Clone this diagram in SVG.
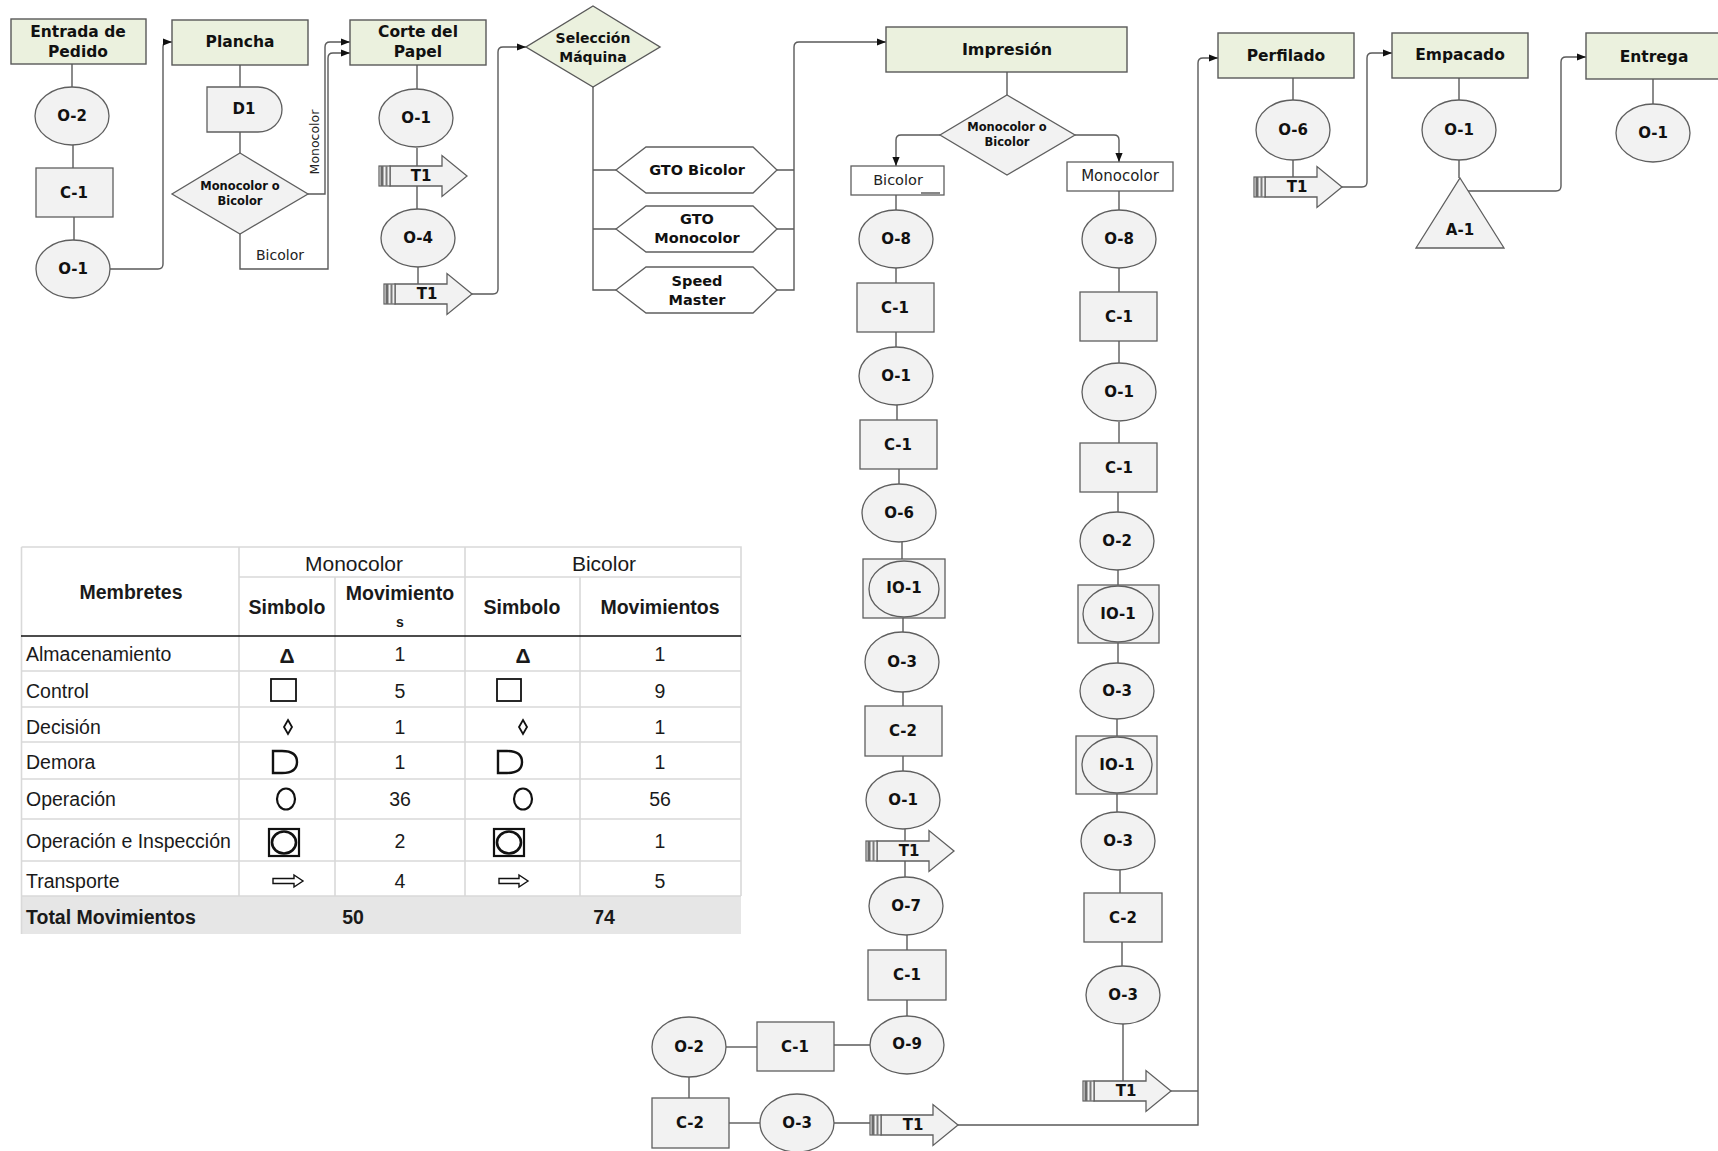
<svg xmlns="http://www.w3.org/2000/svg" width="1718" height="1151" viewBox="0 0 1718 1151">
  <defs>
    <style>
      .hdr { fill: #ebf1de; stroke: #595959; stroke-width: 1.4; }
      .nd { fill: #f2f2f2; stroke: #5f5f5f; stroke-width: 1.3; }
      .wb { fill: #ffffff; stroke: #5f5f5f; stroke-width: 1.3; }
      .wire { fill: none; stroke: #5a5a5a; stroke-width: 1.4; }
      .lbl { font-family: "DejaVu Sans", Verdana, sans-serif; font-weight: bold; font-size: 15px; fill: #111; text-anchor: middle; dominant-baseline: central; }
      .hl { font-size: 15.5px; }
      .sm { font-size: 11.5px; }
      .reg { font-family: "DejaVu Sans", Verdana, sans-serif; font-size: 14.5px; fill: #222; text-anchor: middle; dominant-baseline: central; }
      .tb { font-family: "Liberation Sans", Arial, sans-serif; font-size: 19.5px; fill: #1a1a1a; dominant-baseline: central; }
      .tbb { font-weight: bold; }
      .c { text-anchor: middle; }
      .grid { stroke: #d9d9d9; stroke-width: 1.6; fill: none; }
      .sym { fill: #fff; stroke: #111; }
    </style>
    <marker id="arr" viewBox="0 0 10 10" refX="10" refY="5" markerWidth="9" markerHeight="9" markerUnits="userSpaceOnUse" orient="auto">
      <path d="M0,1 L10,5 L0,9 Z" fill="#111"/>
    </marker>
    <!-- transport block arrow with striped tail, origin at tail / centre line -->
    <g id="t1">
      <path class="nd" d="M11,-10 H63 V-20.5 L88,0 L63,20.5 V10 H11 Z"/>
      <rect x="0" y="-10" width="11" height="20" fill="#f2f2f2" stroke="#5f5f5f" stroke-width="1.2"/>
      <line x1="3" y1="-10" x2="3" y2="10" stroke="#6b6b6b" stroke-width="3"/>
      <line x1="7.5" y1="-10" x2="7.5" y2="10" stroke="#7a7a7a" stroke-width="2"/>
    </g>
  </defs>

  <rect x="0" y="0" width="1718" height="1151" fill="#ffffff"/>

  <!-- connectors -->
  <g id="connectors">
    <path class="wire" d="M72,64 V87"/>
    <path class="wire" d="M73,145 V168"/>
    <path class="wire" d="M74,217 V240"/>
    <path class="wire" d="M110,269 H158 Q163,269 163,264 V47 Q163,42 168,42 H172" marker-end="url(#arr)"/>
    <path class="wire" d="M240,65 V87"/>
    <path class="wire" d="M240,132 V153"/>
    <path class="wire" d="M308,194 H325 V47 Q325,42 330,42 H350" marker-end="url(#arr)"/>
    <path class="wire" d="M240,234 V269 H328 V58 Q328,53 333,53 H350" marker-end="url(#arr)"/>
    <path class="wire" d="M417,65 V89"/>
    <path class="wire" d="M417,148 V209"/>
    <path class="wire" d="M418,267 V285"/>
    <path class="wire" d="M471,294 H493 Q498,294 498,289 V52 Q498,47 503,47 H526" marker-end="url(#arr)"/>
    <path class="wire" d="M593,87 V290 H616 M593,170 H616 M593,229 H616"/>
    <path class="wire" d="M777,170 H794 M777,229 H794 M777,290 H794 V47 Q794,42 799,42 H886" marker-end="url(#arr)"/>
    <path class="wire" d="M1007,72 V95"/>
    <path class="wire" d="M940,135 H901 Q896,135 896,140 V166" marker-end="url(#arr)"/>
    <path class="wire" d="M1075,135 H1114 Q1119,135 1119,140 V162" marker-end="url(#arr)"/>
    <!-- bicolor column -->
    <path class="wire" d="M896,195 V210"/>
    <path class="wire" d="M896,268 V283"/>
    <path class="wire" d="M896,332 V347"/>
    <path class="wire" d="M897,405 V420"/>
    <path class="wire" d="M899,469 V484"/>
    <path class="wire" d="M902,542 V559"/>
    <path class="wire" d="M903,618 V632"/>
    <path class="wire" d="M903,692 V706"/>
    <path class="wire" d="M903,756 V771"/>
    <path class="wire" d="M905,829 V877"/>
    <path class="wire" d="M907,935 V950"/>
    <path class="wire" d="M907,1000 V1016"/>
    <path class="wire" d="M870,1045 H834"/>
    <path class="wire" d="M757,1047 H726"/>
    <path class="wire" d="M689,1077 V1098"/>
    <path class="wire" d="M729,1123 H760"/>
    <path class="wire" d="M834,1123 H870"/>
    <path class="wire" d="M958,1125 H1198 V63 Q1198,58 1203,58 H1218" marker-end="url(#arr)"/>
    <!-- monocolor column -->
    <path class="wire" d="M1119,191 V210"/>
    <path class="wire" d="M1119,268 V292"/>
    <path class="wire" d="M1119,341 V363"/>
    <path class="wire" d="M1119,422 V443"/>
    <path class="wire" d="M1118,492 V512"/>
    <path class="wire" d="M1118,570 V585"/>
    <path class="wire" d="M1118,643 V663"/>
    <path class="wire" d="M1117,719 V736"/>
    <path class="wire" d="M1117,794 V812"/>
    <path class="wire" d="M1120,870 V893"/>
    <path class="wire" d="M1122,942 V966"/>
    <path class="wire" d="M1123,1024 V1081"/>
    <path class="wire" d="M1170,1091 H1198"/>
    <!-- perfilado / empacado / entrega -->
    <path class="wire" d="M1293,78 V100"/>
    <path class="wire" d="M1293,160 V177"/>
    <path class="wire" d="M1341,187 H1362 Q1367,187 1367,182 V58 Q1367,53 1372,53 H1392" marker-end="url(#arr)"/>
    <path class="wire" d="M1459,78 V101"/>
    <path class="wire" d="M1459,160 V178"/>
    <path class="wire" d="M1467,191 H1556 Q1561,191 1561,186 V62 Q1561,57 1566,57 H1586" marker-end="url(#arr)"/>
    <path class="wire" d="M1653,79 V104"/>
  </g>

  <!-- Entrada de Pedido -->
  <g id="entrada">
    <rect class="hdr" x="11" y="19" width="135" height="45"/>
    <text class="lbl hl" x="78" y="32">Entrada de</text>
    <text class="lbl hl" x="78" y="52">Pedido</text>
  </g>
  <g id="entrada-o2"><ellipse class="nd" cx="72" cy="116" rx="37" ry="29"/><text class="lbl" x="72" y="116">O-2</text></g>
  <g id="entrada-c1"><rect class="nd" x="36" y="168" width="77" height="49"/><text class="lbl" x="74" y="193">C-1</text></g>
  <g id="entrada-o1"><ellipse class="nd" cx="73" cy="269" rx="37" ry="29"/><text class="lbl" x="73" y="269">O-1</text></g>

  <!-- Plancha -->
  <g id="plancha">
    <rect class="hdr" x="172" y="20" width="136" height="45"/>
    <text class="lbl hl" x="240" y="42">Plancha</text>
  </g>
  <g id="plancha-d1"><path class="nd" d="M207,87 H258 A24,22.5 0 0 1 258,132 H207 Z"/><text class="lbl" x="244" y="109">D1</text></g>
  <g id="plancha-dec">
    <path class="nd" d="M240,153 L308,194 L240,234 L172,194 Z"/>
    <text class="lbl sm" x="240" y="186">Monocolor o</text>
    <text class="lbl sm" x="240" y="201">Bicolor</text>
  </g>
  <g id="plancha-branch-labels">
    <text class="reg" x="314" y="142" transform="rotate(-90 314 142)" style="font-size:12.5px">Monocolor</text>
    <text class="reg" x="280" y="255" style="font-size:14px">Bicolor</text>
  </g>

  <!-- Corte del Papel -->
  <g id="corte">
    <rect class="hdr" x="350" y="20" width="136" height="45"/>
    <text class="lbl hl" x="418" y="32">Corte del</text>
    <text class="lbl hl" x="418" y="52">Papel</text>
  </g>
  <g id="corte-o1"><ellipse class="nd" cx="416" cy="118" rx="37" ry="29"/><text class="lbl" x="416" y="118">O-1</text></g>
  <g id="corte-t1a"><use href="#t1" x="379" y="176"/><text class="lbl" x="421" y="176">T1</text></g>
  <g id="corte-o4"><ellipse class="nd" cx="418" cy="238" rx="37" ry="29"/><text class="lbl" x="418" y="238">O-4</text></g>
  <g id="corte-t1b"><use href="#t1" x="384" y="294"/><text class="lbl" x="427" y="294">T1</text></g>

  <!-- Selección Máquina -->
  <g id="seleccion">
    <path class="hdr" d="M593,6 L660,47 L593,87 L526,47 Z"/>
    <text class="lbl" style="font-size:14px" x="593" y="38">Selección</text>
    <text class="lbl" style="font-size:14px" x="593" y="57">Máquina</text>
  </g>
  <g id="gto-bicolor">
    <path class="wb" d="M616,170 L646,147 L753,147 L777,170 L753,193 L646,193 Z"/>
    <text class="lbl" style="font-size:14.5px" x="697" y="170">GTO Bicolor</text>
  </g>
  <g id="gto-monocolor">
    <path class="wb" d="M616,229 L646,206 L753,206 L777,229 L753,252 L646,252 Z"/>
    <text class="lbl" style="font-size:14.5px" x="697" y="219">GTO</text>
    <text class="lbl" style="font-size:14.5px" x="697" y="238">Monocolor</text>
  </g>
  <g id="speed-master">
    <path class="wb" d="M616,290 L646,267 L753,267 L777,290 L753,313 L646,313 Z"/>
    <text class="lbl" style="font-size:14.5px" x="697" y="281">Speed</text>
    <text class="lbl" style="font-size:14.5px" x="697" y="300">Master</text>
  </g>

  <!-- Impresión -->
  <g id="impresion">
    <rect class="hdr" x="886" y="27" width="241" height="45"/>
    <text class="lbl" style="font-size:16px" x="1007" y="49">Impresión</text>
  </g>
  <g id="impresion-dec">
    <path class="nd" d="M1007,95 L1075,135 L1007,175 L940,135 Z"/>
    <text class="lbl sm" x="1007" y="127">Monocolor o</text>
    <text class="lbl sm" x="1007" y="142">Bicolor</text>
  </g>
  <g id="bicolor-box">
    <rect class="wb" x="851" y="166" width="93" height="29"/>
    <line x1="921" y1="193" x2="940" y2="193" stroke="#5f5f5f" stroke-width="1.5"/>
    <text class="reg" x="898" y="180">Bicolor</text>
  </g>
  <g id="monocolor-box">
    <rect class="wb" x="1067" y="162" width="106" height="29"/>
    <text class="reg" style="font-size:15px" x="1120" y="176">Monocolor</text>
  </g>

  <!-- bicolor sequence -->
  <g id="b-o8"><ellipse class="nd" cx="896" cy="239" rx="37" ry="29"/><text class="lbl" x="896" y="239">O-8</text></g>
  <g id="b-c1a"><rect class="nd" x="857" y="283" width="77" height="49"/><text class="lbl" x="895" y="308">C-1</text></g>
  <g id="b-o1a"><ellipse class="nd" cx="896" cy="376" rx="37" ry="29"/><text class="lbl" x="896" y="376">O-1</text></g>
  <g id="b-c1b"><rect class="nd" x="860" y="420" width="77" height="49"/><text class="lbl" x="898" y="445">C-1</text></g>
  <g id="b-o6"><ellipse class="nd" cx="899" cy="513" rx="37" ry="29"/><text class="lbl" x="899" y="513">O-6</text></g>
  <g id="b-io1"><rect class="nd" x="863" y="559" width="82" height="59"/><ellipse class="nd" cx="904" cy="589" rx="35" ry="28"/><text class="lbl" x="904" y="588">IO-1</text></g>
  <g id="b-o3a"><ellipse class="nd" cx="902" cy="662" rx="37" ry="30"/><text class="lbl" x="902" y="662">O-3</text></g>
  <g id="b-c2a"><rect class="nd" x="865" y="706" width="77" height="50"/><text class="lbl" x="903" y="731">C-2</text></g>
  <g id="b-o1b"><ellipse class="nd" cx="903" cy="800" rx="37" ry="29"/><text class="lbl" x="903" y="800">O-1</text></g>
  <g id="b-t1a"><use href="#t1" x="866" y="851"/><text class="lbl" x="909" y="851">T1</text></g>
  <g id="b-o7"><ellipse class="nd" cx="906" cy="906" rx="37" ry="29"/><text class="lbl" x="906" y="906">O-7</text></g>
  <g id="b-c1c"><rect class="nd" x="868" y="950" width="78" height="50"/><text class="lbl" x="907" y="975">C-1</text></g>
  <g id="b-o9"><ellipse class="nd" cx="907" cy="1045" rx="37" ry="29"/><text class="lbl" x="907" y="1044">O-9</text></g>
  <g id="b-c1d"><rect class="nd" x="757" y="1022" width="77" height="49"/><text class="lbl" x="795" y="1047">C-1</text></g>
  <g id="b-o2"><ellipse class="nd" cx="689" cy="1047" rx="37" ry="30"/><text class="lbl" x="689" y="1047">O-2</text></g>
  <g id="b-c2b"><rect class="nd" x="652" y="1098" width="77" height="50"/><text class="lbl" x="690" y="1123">C-2</text></g>
  <g id="b-o3b"><ellipse class="nd" cx="797" cy="1123" rx="37" ry="29"/><text class="lbl" x="797" y="1123">O-3</text></g>
  <g id="b-t1b"><use href="#t1" x="870" y="1125"/><text class="lbl" x="913" y="1125">T1</text></g>

  <!-- monocolor sequence -->
  <g id="m-o8"><ellipse class="nd" cx="1119" cy="239" rx="37" ry="29"/><text class="lbl" x="1119" y="239">O-8</text></g>
  <g id="m-c1a"><rect class="nd" x="1080" y="292" width="77" height="49"/><text class="lbl" x="1119" y="317">C-1</text></g>
  <g id="m-o1"><ellipse class="nd" cx="1119" cy="392" rx="37" ry="29"/><text class="lbl" x="1119" y="392">O-1</text></g>
  <g id="m-c1b"><rect class="nd" x="1080" y="443" width="77" height="49"/><text class="lbl" x="1119" y="468">C-1</text></g>
  <g id="m-o2"><ellipse class="nd" cx="1117" cy="541" rx="37" ry="29"/><text class="lbl" x="1117" y="541">O-2</text></g>
  <g id="m-io1a"><rect class="nd" x="1078" y="585" width="81" height="58"/><ellipse class="nd" cx="1118" cy="614" rx="35" ry="28"/><text class="lbl" x="1118" y="614">IO-1</text></g>
  <g id="m-o3a"><ellipse class="nd" cx="1117" cy="691" rx="37" ry="28"/><text class="lbl" x="1117" y="691">O-3</text></g>
  <g id="m-io1b"><rect class="nd" x="1076" y="736" width="81" height="58"/><ellipse class="nd" cx="1117" cy="765" rx="35" ry="28"/><text class="lbl" x="1117" y="765">IO-1</text></g>
  <g id="m-o3b"><ellipse class="nd" cx="1118" cy="841" rx="37" ry="29"/><text class="lbl" x="1118" y="841">O-3</text></g>
  <g id="m-c2"><rect class="nd" x="1084" y="893" width="78" height="49"/><text class="lbl" x="1123" y="918">C-2</text></g>
  <g id="m-o3c"><ellipse class="nd" cx="1123" cy="995" rx="37" ry="29"/><text class="lbl" x="1123" y="995">O-3</text></g>
  <g id="m-t1"><use href="#t1" x="1083" y="1091"/><text class="lbl" x="1126" y="1091">T1</text></g>

  <!-- Perfilado -->
  <g id="perfilado">
    <rect class="hdr" x="1218" y="33" width="136" height="45"/>
    <text class="lbl hl" x="1286" y="56">Perfilado</text>
  </g>
  <g id="perfilado-o6"><ellipse class="nd" cx="1293" cy="130" rx="37" ry="30"/><text class="lbl" x="1293" y="130">O-6</text></g>
  <g id="perfilado-t1"><use href="#t1" x="1254" y="187"/><text class="lbl" x="1297" y="187">T1</text></g>

  <!-- Empacado -->
  <g id="empacado">
    <rect class="hdr" x="1392" y="33" width="136" height="45"/>
    <text class="lbl hl" x="1460" y="55">Empacado</text>
  </g>
  <g id="empacado-o1"><ellipse class="nd" cx="1459" cy="130" rx="37" ry="30"/><text class="lbl" x="1459" y="130">O-1</text></g>
  <g id="empacado-a1"><path class="nd" d="M1460,178 L1504,248 L1416,248 Z"/><text class="lbl" x="1460" y="230">A-1</text></g>

  <!-- Entrega -->
  <g id="entrega">
    <rect class="hdr" x="1586" y="33" width="150" height="46"/>
    <text class="lbl hl" x="1654" y="57">Entrega</text>
  </g>
  <g id="entrega-o1"><ellipse class="nd" cx="1653" cy="133" rx="37" ry="29"/><text class="lbl" x="1653" y="133">O-1</text></g>

  <!-- summary table -->
  <g id="tabla">
    <rect x="21" y="896" width="720" height="38" fill="#e6e6e6"/>
    <path class="grid" d="M21.5,547 H741 V896 M21.5,547 V934 M239,547 V896 M465,547 V896 M335,577 V896 M580,577 V896 M239,577 H741 M21,671 H741 M21,707 H741 M21,742 H741 M21,779 H741 M21,819 H741 M21,861 H741 M21,896 H741"/>
    <line x1="21" y1="636" x2="741" y2="636" stroke="#111" stroke-width="1.6"/>

    <text class="tb tbb c" x="131" y="592">Membretes</text>
    <text class="tb c" style="font-size:21px" x="354" y="563">Monocolor</text>
    <text class="tb c" style="font-size:21px" x="604" y="563">Bicolor</text>
    <text class="tb tbb c" x="287" y="607">Simbolo</text>
    <text class="tb tbb c" x="400" y="593">Movimiento</text>
    <text class="tb tbb c" style="font-size:14px" x="400" y="622">s</text>
    <text class="tb tbb c" x="522" y="607">Simbolo</text>
    <text class="tb tbb c" x="660" y="607">Movimientos</text>

    <text class="tb" x="26" y="654">Almacenamiento</text>
    <text class="tb" x="26" y="691">Control</text>
    <text class="tb" x="26" y="727">Decisión</text>
    <text class="tb" x="26" y="762">Demora</text>
    <text class="tb" x="26" y="799">Operación</text>
    <text class="tb" x="26" y="841">Operación e Inspección</text>
    <text class="tb" x="26" y="881">Transporte</text>
    <text class="tb tbb" x="26" y="917">Total Movimientos</text>

    <text class="tb c" x="400" y="654">1</text>
    <text class="tb c" x="400" y="691">5</text>
    <text class="tb c" x="400" y="727">1</text>
    <text class="tb c" x="400" y="762">1</text>
    <text class="tb c" x="400" y="799">36</text>
    <text class="tb c" x="400" y="841">2</text>
    <text class="tb c" x="400" y="881">4</text>
    <text class="tb tbb c" x="353" y="917">50</text>

    <text class="tb c" x="660" y="654">1</text>
    <text class="tb c" x="660" y="691">9</text>
    <text class="tb c" x="660" y="727">1</text>
    <text class="tb c" x="660" y="762">1</text>
    <text class="tb c" x="660" y="799">56</text>
    <text class="tb c" x="660" y="841">1</text>
    <text class="tb c" x="660" y="881">5</text>
    <text class="tb tbb c" x="604" y="917">74</text>

    <!-- symbol column glyphs -->
    <text class="tb tbb c" style="font-size:21px" x="287" y="655">Δ</text>
    <text class="tb tbb c" style="font-size:21px" x="523" y="655">Δ</text>
    <rect class="sym" x="271" y="679" width="25" height="22" stroke-width="1.8"/>
    <rect class="sym" x="497" y="679" width="24" height="22" stroke-width="1.8"/>
    <path class="sym" d="M288,720 L292,727 L288,734 L284,727 Z" stroke-width="1.8"/>
    <path class="sym" d="M523,720 L527,727 L523,734 L519,727 Z" stroke-width="1.8"/>
    <path class="sym" d="M273,751 H282 Q297,751 297,762 Q297,773 282,773 H273 Z" stroke-width="2.4"/>
    <path class="sym" d="M498,751 H507 Q522,751 522,762 Q522,773 507,773 H498 Z" stroke-width="2.4"/>
    <ellipse class="sym" cx="286" cy="799" rx="9" ry="10.5" stroke-width="2.2"/>
    <ellipse class="sym" cx="523" cy="799" rx="9" ry="10.5" stroke-width="2.2"/>
    <rect class="sym" x="269" y="829" width="30" height="27" stroke-width="2.2"/>
    <ellipse class="sym" cx="284" cy="842.5" rx="12" ry="11" stroke-width="2.6"/>
    <rect class="sym" x="494" y="829" width="30" height="27" stroke-width="2.2"/>
    <ellipse class="sym" cx="509" cy="842.5" rx="12" ry="11" stroke-width="2.6"/>
    <path class="sym" d="M273,878.5 H294 V875 L303,881 L294,887 V883.5 H273 Z" stroke-width="1.4"/>
    <path class="sym" d="M499,878.5 H519 V875 L528,881 L519,887 V883.5 H499 Z" stroke-width="1.4"/>
  </g>
</svg>
